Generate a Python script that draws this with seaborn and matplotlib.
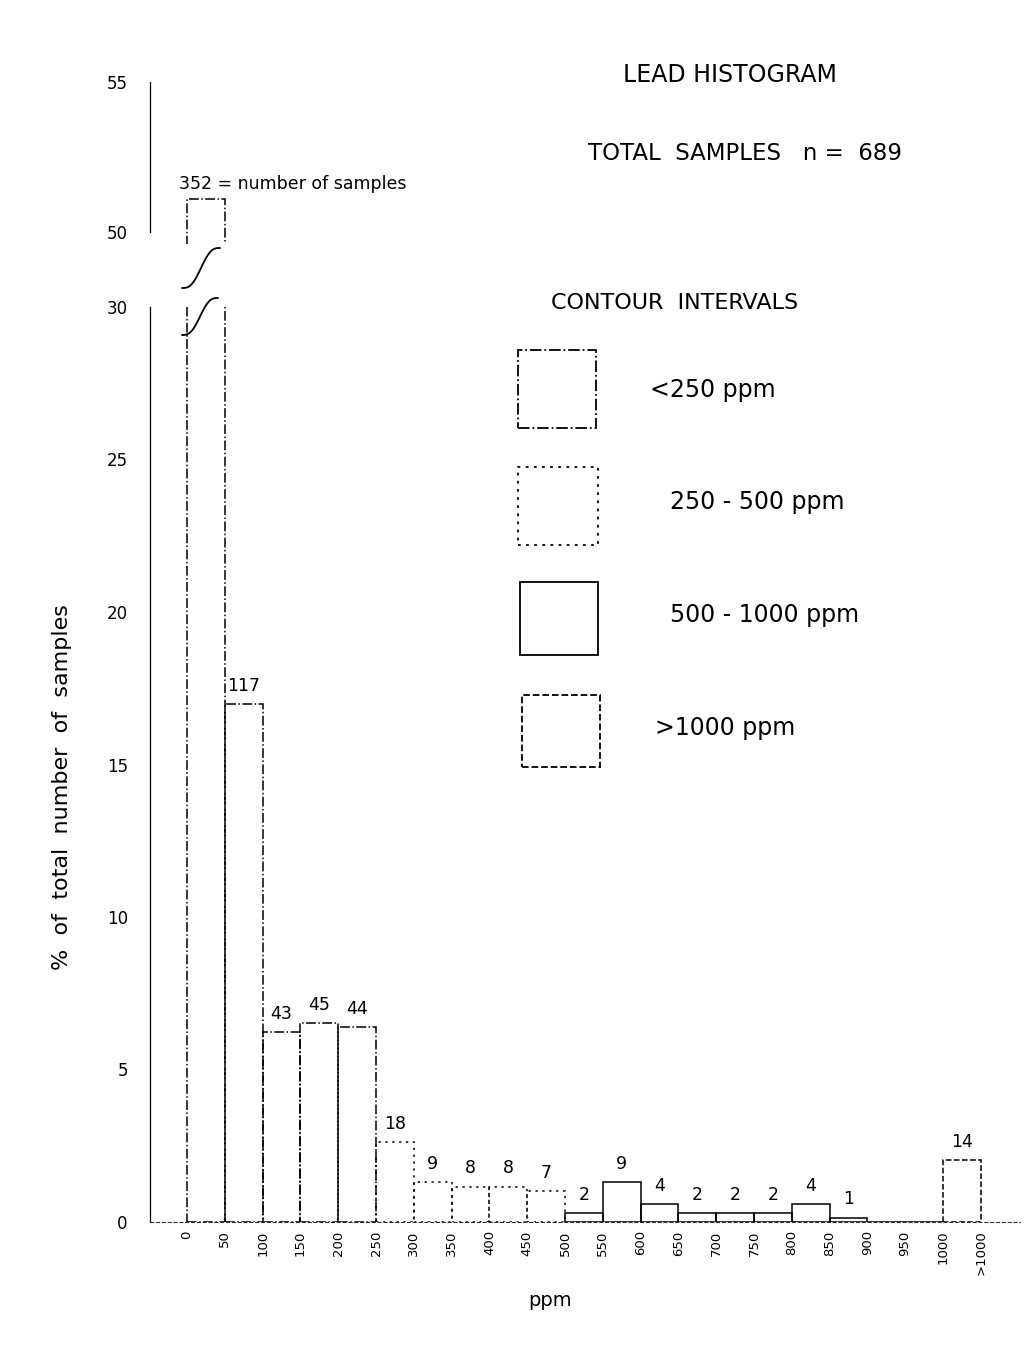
import numpy as np
import pandas as pd
import matplotlib
matplotlib.use("Agg")
import matplotlib.pyplot as plt
from matplotlib.patches import Rectangle
import seaborn as sns

# lead histogram, 50 ppm bins; last bin is ">1000" drawn at 1000-1050
bin_left = [0, 50, 100, 150, 200, 250, 300, 350, 400, 450,
            500, 550, 600, 650, 700, 750, 800, 850, 900, 950, 1000]
bin_counts = [352, 117, 43, 45, 44, 18, 9, 8, 8, 7,
              2, 9, 4, 2, 2, 2, 4, 1, 0, 0, 14]
bin_class = ["<250"] * 5 + ["250-500"] * 5 + ["500-1000"] * 10 + [">1000"]
tick_labels = ["0", "50", "100", "150", "200", "250", "300", "350", "400", "450",
               "500", "550", "600", "650", "700", "750", "800", "850", "900", "950",
               "1000", ">1000"]
interval_names = ["<250", "250-500", "500-1000", ">1000"]
interval_labels = ["<250 ppm", "250 - 500 ppm", "500 - 1000 ppm", ">1000 ppm"]
total_samples = 689

line_styles = {"<250": "-.", "250-500": (0, (1.5, 3)), "500-1000": "-", ">1000": "--"}

df = pd.DataFrame({"left": bin_left, "count": bin_counts, "interval": bin_class})
df["pct"] = df["count"] / total_samples * 100
df["mid"] = df["left"] + 25

sns.set_style("white")
plt.rcParams["font.family"] = ["DejaVu Sans"]
plt.rcParams["text.color"] = "black"
plt.rcParams["xtick.color"] = "black"
plt.rcParams["ytick.color"] = "black"
plt.rcParams["axes.edgecolor"] = "black"

W, H = 1026, 1354
fig = plt.figure(figsize=(W / 100, H / 100), dpi=100)


def fx(x):
    return x / W


def fy(y):
    return 1 - y / H


ax_bot = fig.add_axes([fx(150), fy(1222), fx(1020) - fx(150), fy(307) - fy(1222)])
ax_top = fig.add_axes([fx(150), fy(244), fx(1020) - fx(150), fy(82) - fy(244)])

for ax in (ax_bot, ax_top):
    for name in interval_names:
        sub = df[df["interval"] == name]
        edges = list(sub["left"]) + [sub["left"].max() + 50]
        sns.histplot(data=sub, x="mid", weights="pct", bins=edges, element="bars",
                     fill=False, color="black", linewidth=1.1,
                     linestyle=line_styles[name], ax=ax)
    ax.set_xlim(-49, 1102)
    ax.set_xlabel("")
    ax.set_ylabel("")
    for side in ("top", "right"):
        ax.spines[side].set_visible(False)
    ax.spines["left"].set_linewidth(0.9)
    ax.tick_params(axis="y", direction="out", length=6, width=0.9, pad=10, labelsize=12)

ax_bot.set_ylim(0, 30)
ax_bot.set_yticks([0, 5, 10, 15, 20, 25, 30])
ax_bot.set_xticks(bin_left + [1050])
ax_bot.set_xticklabels(tick_labels, rotation=90, fontsize=9.5)
ax_bot.tick_params(axis="x", direction="inout", length=8, width=0.9, pad=2)
ax_bot.spines["bottom"].set_linewidth(0.6)
ax_bot.spines["bottom"].set_linestyle((0, (4, 3)))

ax_top.set_ylim(49.6, 55)
ax_top.set_yticks([50, 55])
ax_top.set_xticks([])
ax_top.spines["bottom"].set_visible(False)
ax_top.spines["left"].set_bounds(50, 55)

# count labels above bars
for _, row in df.iterrows():
    if row["count"] == 0:
        continue
    if row["pct"] > 30:
        ax_top.text(row["left"] - 10, row["pct"] + 0.2, f"{row['count']} = number of samples",
                    ha="left", va="bottom", fontsize=12.5)
    else:
        ax_bot.text(row["mid"], row["pct"] + 0.3, str(row["count"]),
                    ha="center", va="bottom", fontsize=12.5)

# axis break on the tall first bar
t = np.linspace(0, 1, 40)
s = t - np.sin(2 * np.pi * t) / (2 * np.pi)
for (x0, y0, x1, y1) in [(182, 288, 220, 248), (182, 335, 218, 298)]:
    fig.add_artist(plt.Line2D(fx(x0 + (x1 - x0) * t), fy(y0 + (y1 - y0) * s),
                              transform=fig.transFigure, color="black", lw=1.3))

# titles
fig.text(fx(730), fy(75), "LEAD HISTOGRAM", ha="center", va="center", fontsize=17)
fig.text(fx(745), fy(153), "TOTAL  SAMPLES   n =  689", ha="center", va="center", fontsize=16.5)
fig.text(fx(675), fy(303), "CONTOUR  INTERVALS", ha="center", va="center", fontsize=16)

# contour interval key
boxes = [(518, 350, 596, 428), (518, 467, 598, 545), (520, 582, 598, 655), (522, 695, 600, 767)]
label_pos = [(650, 390), (670, 502), (670, 615), (655, 728)]
for name, lab, (x0, y0, x1, y1), (lx, ly) in zip(interval_names, interval_labels, boxes, label_pos):
    fig.add_artist(Rectangle((fx(x0), fy(y1)), fx(x1) - fx(x0), fy(y0) - fy(y1),
                             transform=fig.transFigure, fill=False, edgecolor="black",
                             linewidth=1.3, linestyle=line_styles[name]))
    fig.text(fx(lx), fy(ly), lab, ha="left", va="center", fontsize=17)

fig.text(fx(62), fy(787), "%  of  total  number  of  samples", rotation=90,
         ha="center", va="center", fontsize=16)
fig.text(fx(550), fy(1300), "ppm", ha="center", va="center", fontsize=14)

fig.savefig("out.png", dpi=100, facecolor="white")
